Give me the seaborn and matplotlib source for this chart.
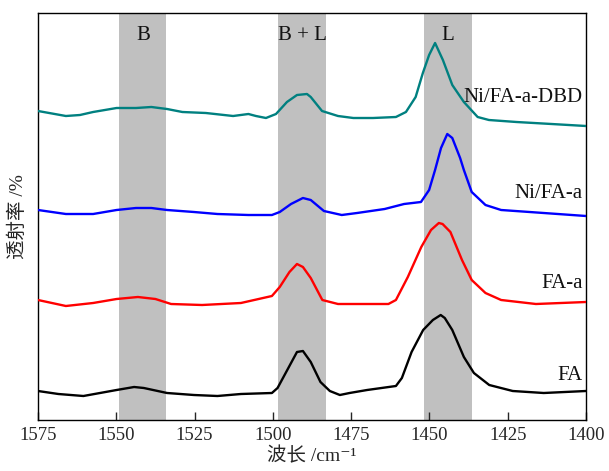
import matplotlib
matplotlib.use("Agg")
import matplotlib.pyplot as plt
import seaborn as sns
import pandas as pd

# ---- data ----
wn_dbd = [1575, 1566.1, 1561.6, 1557.4, 1549.9, 1543.7, 1538.8, 1533.8, 1528.9, 1521.4, 1512.7, 1507.8,
          1505.4, 1502.2, 1499.0, 1495.5, 1492.3, 1489.1, 1487.9, 1484.3, 1479.2, 1474.3, 1468.0, 1460.7,
          1457.5, 1454.4, 1452.1, 1450.1, 1448.2, 1445.7, 1442.7, 1439.0, 1434.6, 1431.0, 1422.2, 1411.0, 1400]
t_dbd = [309, 304, 305, 308, 312, 312, 313, 311, 308, 307, 304, 306,
         304, 302, 306, 318, 325, 326, 323, 309, 304, 302, 302, 303,
         308, 323, 347, 365, 377, 360, 335, 318, 303, 300, 298, 296, 294]

wn_nia = [1575, 1566.1, 1557.4, 1549.9, 1543.7, 1538.8, 1533.8, 1525.2, 1517.7, 1507.8, 1500.3, 1497.8,
          1494.2, 1490.4, 1487.9, 1483.7, 1478.0, 1473.1, 1464.3, 1458.1, 1452.7, 1450.1, 1448.2, 1446.3,
          1444.3, 1442.7, 1440.2, 1439.0, 1436.5, 1432.1, 1427.1, 1413.5, 1400]
t_nia = [210, 206, 206, 210, 212, 212, 210, 208, 206, 205, 205, 208,
         216, 222, 220, 209, 205, 207, 211, 216, 218, 230, 250, 272,
         286, 282, 262, 250, 228, 215, 210, 207, 204]

wn_faa = [1575, 1566.1, 1557.4, 1549.9, 1543.1, 1537.5, 1532.5, 1522.6, 1510.2, 1500.3, 1497.8, 1494.7,
          1492.3, 1490.4, 1487.9, 1484.2, 1479.2, 1468.0, 1463.1, 1460.7, 1456.9, 1452.6, 1449.5, 1447.0,
          1445.8, 1443.3, 1439.6, 1436.5, 1432.1, 1427.1, 1416.0, 1400]
t_faa = [120, 114, 117, 121, 123, 121, 116, 115, 117, 124, 133, 148,
         156, 153, 142, 120, 116, 116, 116, 120, 143, 173, 190, 197,
         196, 188, 160, 140, 127, 120, 116, 118]

wn_fa = [1575, 1568.5, 1560.5, 1549.9, 1544.3, 1541.2, 1533.8, 1525.2, 1517.7, 1510.2, 1500.3, 1498.5,
         1495.4, 1492.3, 1490.4, 1487.9, 1484.8, 1481.8, 1478.6, 1475.5, 1469.9, 1460.7, 1458.8, 1455.7,
         1452.0, 1448.9, 1446.4, 1445.1, 1442.7, 1439.0, 1435.8, 1430.9, 1423.4, 1413.5, 1400]
t_fa = [29, 26, 24, 30, 33, 32, 27, 25, 24, 26, 27, 32,
        50, 68, 69, 58, 38, 29, 25, 27, 30, 34, 42, 68,
        90, 100, 105, 102, 90, 63, 47, 35, 29, 27, 29]

series_names = ["Ni/FA-a-DBD", "Ni/FA-a", "FA-a", "FA"]
label_y = [322, 227, 137, 45]
colors = ["#008080", "#0000FF", "#FF0000", "#000000"]

band_names = ["B", "B + L", "L"]
band_lo = [1534, 1483, 1436.5]
band_hi = [1549, 1498.3, 1451.7]
band_label_x = [1541.5, 1490.6, 1444.2]

xticks = [1575, 1550, 1525, 1500, 1475, 1450, 1425, 1400]

# ---- style ----
sns.set_style("white")
plt.rcParams["font.family"] = ["Liberation Serif", "Noto Sans CJK SC", "DejaVu Serif"]
plt.rcParams["lines.solid_joinstyle"] = "round"

fig = plt.figure(figsize=(6.09, 4.71), dpi=100)
ax = fig.add_axes([38 / 609, 51 / 471, 548 / 609, 407 / 471])

for lo, hi in zip(band_lo, band_hi):
    ax.axvspan(lo, hi, color="#C0C0C0", lw=0, zorder=0)

all_x = [wn_dbd, wn_nia, wn_faa, wn_fa]
all_y = [t_dbd, t_nia, t_faa, t_fa]
for name, xs, ys, c in zip(series_names, all_x, all_y, colors):
    df = pd.DataFrame({"wn": xs, "t": ys})
    sns.lineplot(data=df, x="wn", y="t", color=c, lw=1.7, ax=ax, sort=False, zorder=3)

for name, ly in zip(series_names, label_y):
    ax.text(1401.0, ly, name, ha="right", va="center", fontsize=15, color="#111111", zorder=4)

for name, bx in zip(band_names, band_label_x):
    ax.text(bx, 384, name, ha="center", va="center", fontsize=15, color="#111111", zorder=4)

ax.set_xlim(1575, 1400)
ax.set_ylim(0, 407)
ax.set_xticks(xticks)
ax.set_xticklabels([str(v) for v in xticks], fontsize=13.5)
ax.set_yticks([])
ax.tick_params(axis="x", direction="in", length=6, width=1, bottom=True, top=False, pad=5)
for s in ax.spines.values():
    s.set_color("black")
    s.set_linewidth(1.0)

ax.set_xlabel("波长 /cm\u207b\u00b9", fontsize=14, labelpad=2)
ax.set_ylabel("透射率 /%", fontsize=14, labelpad=8)

fig.savefig("out.png", dpi=100)
